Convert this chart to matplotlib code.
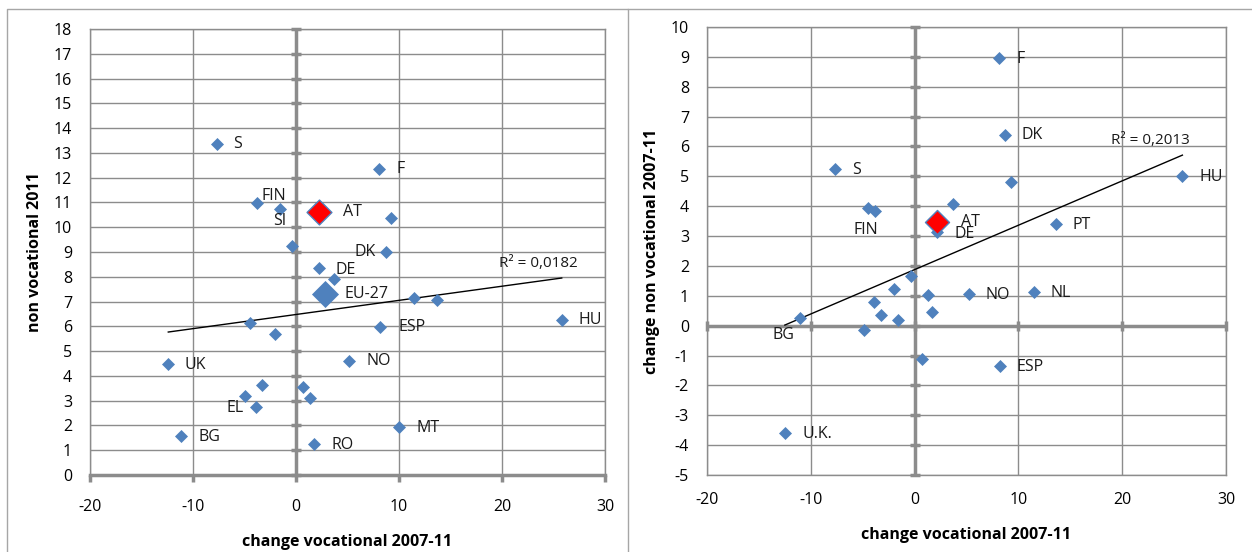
import matplotlib
matplotlib.use("Agg")
import matplotlib.pyplot as plt
from matplotlib.lines import Line2D

plt.rcParams['font.family'] = ['Open Sans', 'DejaVu Sans']
plt.rcParams['axes.unicode_minus'] = False

# Linkes Diagramm: Veraenderung beruflich vs. nicht-beruflich 2011
left_x = [-7.7, 8.1, -3.8, -1.55, 9.2, -0.4, 8.7, 2.2, 3.7, 11.5, 13.7,
          -4.5, -2.0, 8.2, 25.8, 5.1, -12.4, -3.3, 0.7, -5.0, 1.4, -3.9,
          10.0, -11.2, 1.7]
left_y = [13.35, 12.35, 10.98, 10.73, 10.37, 9.24, 9.0, 8.35, 7.9, 7.15, 7.06,
          6.13, 5.69, 5.97, 6.25, 4.6, 4.48, 3.63, 3.55, 3.19, 3.1, 2.74,
          1.94, 1.57, 1.25]
left_labels = ['S', 'F', 'FIN', 'SI', '', '', 'DK', 'DE', '', '', '',
               '', '', 'ESP', 'HU', 'NO', 'UK', '', '', '', '', 'EL',
               'MT', 'BG', 'RO']
left_at = (2.2, 10.6)
left_eu = (2.8, 7.3)
left_trend_x = [-12.4, 25.8]
left_trend_y = [5.77, 7.95]
left_r2 = "R² = 0,0182"

# Rechtes Diagramm: Veraenderung nicht-beruflich 2007-11
right_x = [8.1, 8.7, -7.7, 25.8, 9.3, 3.7, -4.5, -3.8, 2.15, 13.6, -0.35,
           -2.0, 1.3, 5.2, 11.5, -3.9, -3.2, 1.7, -1.6, -11.0, -4.9, 0.7,
           8.2, -12.5]
right_y = [8.96, 6.38, 5.24, 5.02, 4.81, 4.07, 3.95, 3.83, 3.13, 3.4, 1.66,
           1.23, 1.03, 1.06, 1.13, 0.79, 0.36, 0.46, 0.19, 0.25, -0.15, -1.12,
           -1.35, -3.6]
right_labels = ['F', 'DK', 'S', 'HU', '', '', '', 'FIN', 'DE', 'PT', '',
                '', '', 'NO', 'NL', '', '', '', '', 'BG', '', '',
                'ESP', 'U.K.']
right_at = (2.15, 3.47)
right_trend_x = [-12.5, 25.8]
right_trend_y = [0.02, 5.71]
right_r2 = "R² = 0,2013"

blue = '#4F81BD'
grid_c = '#8C8C8C'
W, H = 1252, 552

fig = plt.figure(figsize=(W / 100, H / 100), dpi=100)

# Rahmen der beiden Diagramme
fig.add_artist(Line2D([7 / W, 7 / W, 628 / W, 628 / W], [0, 1 - 9 / H, 1 - 9 / H, 0],
                      transform=fig.transFigure, color='#A6A6A6', lw=1))
fig.add_artist(Line2D([628 / W, 1], [1 - 9 / H, 1 - 9 / H],
                      transform=fig.transFigure, color='#A6A6A6', lw=1))

# Label-Versatz in Pixel (dx, dy, ha)
left_offsets = {'S': (16, 0, 'left'), 'F': (17, 0, 'left'), 'FIN': (5, 7, 'left'),
                'SI': (-7, -12, 'left'), 'DK': (-10, 0, 'right'), 'DE': (17, -2, 'left'),
                'ESP': (18, 0, 'left'), 'HU': (17, 0, 'left'), 'NO': (18, 0, 'left'),
                'UK': (16, -1, 'left'), 'EL': (-12, -1, 'right'), 'MT': (17, -1, 'left'),
                'BG': (18, -1, 'left'), 'RO': (18, -1, 'left')}
right_offsets = {'F': (18, -1, 'left'), 'DK': (17, 0, 'left'), 'S': (17, -1, 'left'),
                 'HU': (17, -1, 'left'), 'FIN': (3, -19, 'right'), 'DE': (18, -2, 'left'),
                 'PT': (17, -1, 'left'), 'NO': (17, -1, 'left'), 'NL': (17, -1, 'left'),
                 'BG': (-6, -17, 'right'), 'ESP': (17, -1, 'left'), 'U.K.': (18, -1, 'left')}


def setup(ax, ylim, yticks, xlabel, ylabel, zero_h):
    ax.set_xlim(-20, 30)
    ax.set_ylim(*ylim)
    ax.set_xticks(range(-20, 31, 10))
    ax.set_yticks(yticks)
    ax.grid(True, color=grid_c, lw=1)
    ax.set_axisbelow(True)
    for s in ax.spines.values():
        s.set_color(grid_c)
        s.set_linewidth(1)
    ax.tick_params(axis='y', length=0, pad=13, labelsize=11.5)
    ax.tick_params(axis='x', length=0, pad=12, labelsize=11.5)
    # Achsen bei Null
    ax.axvline(0, color=grid_c, lw=2.5, zorder=1)
    ax.plot([0] * len(yticks), yticks, ls='none', marker='_', ms=7, mew=2.5,
            color=grid_c, zorder=1, clip_on=False)
    if zero_h:
        ax.axhline(0, color=grid_c, lw=2.5, zorder=1)
        xt = list(range(-20, 31, 10))
        ax.plot(xt, [0] * len(xt), ls='none', marker='|', ms=7, mew=2.5,
                color=grid_c, zorder=1, clip_on=False)
    ax.set_xlabel(xlabel, fontsize=11.5, fontweight='bold', labelpad=14)
    ax.set_ylabel(ylabel, fontsize=11.5, fontweight='bold', labelpad=8)


def label_points(ax, xs, ys, labels, offsets):
    for x, y, lab in zip(xs, ys, labels):
        if not lab:
            continue
        dx, dy, ha = offsets[lab]
        ax.annotate(lab, (x, y), xytext=(dx * 0.72, dy * 0.72), textcoords='offset points',
                    ha=ha, va='center', fontsize=11.5, color='#1A1A1A')


# Linkes Diagramm
ax1 = fig.add_axes([90 / W, 77 / H, 515 / W, 446 / H])
setup(ax1, (0, 18), list(range(0, 19)), 'change vocational 2007-11',
      'non vocational 2011', False)
ax1.spines['bottom'].set_linewidth(2.5)
ax1.tick_params(axis='x', length=5, width=2.5, color=grid_c, direction='out')
ax1.scatter(left_x, left_y, marker='D', s=44, color=blue, zorder=3, lw=0)
ax1.scatter(*left_eu, marker='D', s=190, color=blue, zorder=3, lw=0)
ax1.scatter(*left_at, marker='D', s=160, color='red', edgecolor=blue, lw=1, zorder=4)
ax1.plot(left_trend_x, left_trend_y, color='black', lw=1, zorder=2)
ax1.annotate('AT', left_at, xytext=(24 * 0.72, 0), textcoords='offset points',
             va='center', fontsize=11.5, color='#1A1A1A')
ax1.annotate('EU-27', left_eu, xytext=(20 * 0.72, 0), textcoords='offset points',
             va='center', fontsize=11.5, color='#1A1A1A')
label_points(ax1, left_x, left_y, left_labels, left_offsets)
ax1.text(23.5, 8.55, left_r2, fontsize=11, ha='center', va='center', color='#1A1A1A')

# Rechtes Diagramm
ax2 = fig.add_axes([707 / W, 77 / H, 519 / W, 448 / H])
setup(ax2, (-5, 10), list(range(-5, 11)), 'change vocational 2007-11',
      'change non vocational 2007-11', True)
ax2.scatter(right_x, right_y, marker='D', s=44, color=blue, zorder=3, lw=0)
ax2.scatter(*right_at, marker='D', s=150, color='red', edgecolor=blue, lw=1, zorder=4)
ax2.plot(right_trend_x, right_trend_y, color='black', lw=1, zorder=2)
ax2.annotate('AT', right_at, xytext=(24 * 0.72, 0), textcoords='offset points',
             va='center', fontsize=11.5, color='#1A1A1A')
label_points(ax2, right_x, right_y, right_labels, right_offsets)
ax2.text(22.7, 6.2, right_r2, fontsize=11, ha='center', va='center', color='#1A1A1A')

fig.savefig('out.png', dpi=100)
